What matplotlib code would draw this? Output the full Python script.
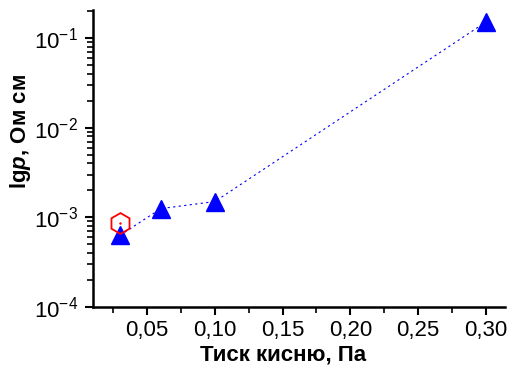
import matplotlib
matplotlib.use("Agg")
import matplotlib.pyplot as plt
from matplotlib.ticker import MultipleLocator, LogLocator, FuncFormatter

plt.rcParams['font.family'] = ['Liberation Sans', 'DejaVu Sans']
plt.rcParams['mathtext.fontset'] = 'custom'
plt.rcParams['mathtext.rm'] = 'Liberation Sans'
plt.rcParams['mathtext.it'] = 'Liberation Sans:italic'
plt.rcParams['mathtext.bf'] = 'Liberation Sans:bold'
plt.rcParams['mathtext.bfit'] = 'Liberation Sans:bold:italic'

# oxygen pressure, Pa, and resistivity, Ohm cm
pressure = [0.03, 0.06, 0.10, 0.30]
resistivity = [6.3e-4, 1.25e-3, 1.5e-3, 0.15]
ref_pressure = [0.03]
ref_resistivity = [8.6e-4]

fig = plt.figure(figsize=(5.14, 3.69), dpi=100)
ax = fig.add_axes([0.181, 0.168, 0.801, 0.805])

ax.plot(pressure, resistivity, ls=(0, (2, 3)), lw=0.8, color='blue',
        marker='^', ms=13, mfc='blue', mec='blue', zorder=3)
ax.plot(ref_pressure, ref_resistivity, ls='none', marker='h', ms=15,
        mfc='none', mec='red', mew=1.3, zorder=4)
ax.plot(ref_pressure, ref_resistivity, ls='none', marker='.', ms=1.5,
        color='red', zorder=5)

ax.set_yscale('log')
ax.set_xlim(0.010, 0.314)
ax.set_ylim(1e-4, 0.205)

ax.xaxis.set_major_locator(MultipleLocator(0.05))
ax.xaxis.set_minor_locator(MultipleLocator(0.025))
ax.xaxis.set_major_formatter(FuncFormatter(lambda v, p: f"{v:.2f}".replace('.', ',')))
ax.yaxis.set_major_locator(LogLocator(base=10, numticks=10))
ax.yaxis.set_minor_locator(LogLocator(base=10, subs=range(2, 10), numticks=20))

for s in ['top', 'right']:
    ax.spines[s].set_visible(False)
for s in ['left', 'bottom']:
    ax.spines[s].set_linewidth(1.8)

ax.tick_params(which='major', direction='out', length=6, width=1.5)
ax.tick_params(which='minor', direction='out', length=4, width=1.2)
ax.tick_params(axis='x', which='major', labelsize=16, pad=3)
ax.tick_params(axis='y', which='major', labelsize=16, pad=5)
ax.tick_params(axis='y', which='minor', labelleft=False)

ax.set_xlabel('Тиск кисню, Па', fontsize=16, fontweight='bold')
ax.xaxis.set_label_coords(0.461, -0.125)
ax.set_ylabel(r'lg$\mathbfit{p}$, Ом см', fontsize=16, fontweight='bold')
ax.yaxis.set_label_coords(-0.145, 0.59)

fig.savefig('out.png', dpi=100)
